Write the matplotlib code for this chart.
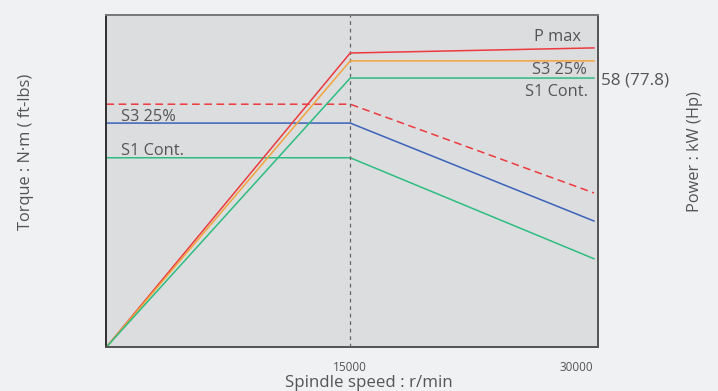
import matplotlib
matplotlib.use("Agg")
import matplotlib.pyplot as plt
import matplotlib.transforms as mtransforms

# ---- data ----
speed = [0, 15000, 30000]
# torque curves (arbitrary torque units, left axis)
torque_s3_peak = [47.6, 47.6, 30.2]   # red dashed
torque_s3 = [43.9, 43.9, 24.7]        # blue
torque_s1 = [37.1, 37.1, 17.3]        # green
# power curves (kW, right axis)
power_pmax = [0, 63.4, 64.5]          # red
power_s3 = [0, 61.7, 61.7]            # orange
power_s1 = [0, 58.0, 58.0]            # green
xtick_vals = [15000, 30000]
xtick_labels = ["15000", "30000"]
power_tick = [58]
power_tick_label = ["58 (77.8)"]

plt.rcParams['font.family'] = ['Open Sans', 'DejaVu Sans']
TXT = '#555555'
RED = '#ec3a3f'
ORANGE = '#f2a53c'
GREEN = '#2ebd80'
BLUE = '#3b62b8'

fig = plt.figure(figsize=(7.18, 3.91), dpi=100, facecolor='#f0f1f3')
ax = fig.add_axes([0.1483, 0.1125, 0.6846, 0.848])
ax.set_facecolor('#dcdddf')
ax.set_xlim(0, 30250)
ax.set_ylim(0, 65)
ax2 = ax.twinx()
ax2.set_ylim(0, 71.5)

# torque
ax.plot(speed, torque_s3_peak, color=RED, lw=1.1, ls=(0, (5, 3)))
ax.plot(speed, torque_s3, color=BLUE, lw=1.1)
ax.plot(speed, torque_s1, color=GREEN, lw=1.1)
# power
ax2.plot(speed, power_pmax, color=RED, lw=1.1)
ax2.plot(speed, power_s3, color=ORANGE, lw=1.1)
ax2.plot(speed, power_s1, color=GREEN, lw=1.1)

ax.axvline(15000, color='#666666', lw=0.9, ls=(0, (3, 3)))

# spines
for a in (ax, ax2):
    a.spines['left'].set_color('#333333')
    a.spines['bottom'].set_color('#555555')
    a.spines['top'].set_color('#7a7a7a')
    a.spines['right'].set_color('#555555')
    for s in a.spines.values():
        s.set_linewidth(1.3)

ax.set_yticks([])
ax.set_xticks(xtick_vals)
ax.set_xticklabels(xtick_labels, fontsize=8.5, color=TXT)
ax.tick_params(axis='x', length=0, pad=10)
lbls = ax.get_xticklabels()
off = mtransforms.ScaledTranslation(-18 / 100, 0, fig.dpi_scale_trans)
lbls[1].set_transform(lbls[1].get_transform() + off)

ax2.set_yticks(power_tick)
ax2.set_yticklabels(power_tick_label, fontsize=12.3, color=TXT)
ax2.tick_params(axis='y', length=0, pad=2)

# curve labels
FS = 11.8
ax2.text(29200, 65.1, "P max", fontsize=FS, color=TXT, ha='right', va='bottom')
ax2.text(29550, 58.0, "S3 25%", fontsize=FS, color=TXT, ha='right', va='bottom')
ax2.text(29650, 53.3, "S1 Cont.", fontsize=FS, color=TXT, ha='right', va='bottom')
ax.text(900, 43.6, "S3 25%", fontsize=FS, color=TXT, ha='left', va='bottom')
ax.text(900, 36.8, "S1 Cont.", fontsize=FS, color=TXT, ha='left', va='bottom')

# axis titles
fig.text(26 / 718, 1 - 152 / 391, "Torque : N·m ( ft-lbs)", rotation=90,
         ha='center', va='center', fontsize=11.8, color=TXT)
fig.text(695 / 718, 1 - 152 / 391, "Power : kW (Hp)", rotation=90,
         ha='center', va='center', fontsize=11.8, color=TXT)
fig.text(369 / 718, 1 - 383 / 391, "Spindle speed : r/min",
         ha='center', va='center', fontsize=12.2, color=TXT)

fig.savefig("out.png", dpi=100, facecolor=fig.get_facecolor())
